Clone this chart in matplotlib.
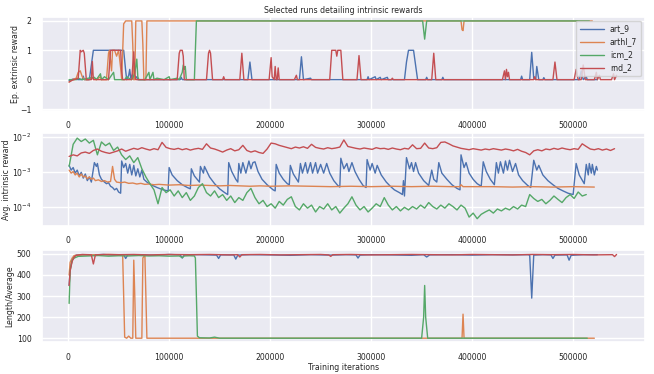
import numpy as np
import matplotlib
matplotlib.use('Agg')
import matplotlib.pyplot as plt
import seaborn as sns

# run names (legend order)
runs = ['art_9', 'arthl_7', 'icm_2', 'rnd_2']

# --- episode extrinsic reward, (iteration in thousands, reward)
art_ext = [(1, -0.03), (5, 0.02), (10, 0), (14, 0), (15, 0.12), (16, 0), (21, 0), (23, 0.5), (25, 1), (40, 1),
           (55, 1), (57, 0.3), (58, 0), (60, 0.15), (61, 0.35), (62, 0.05), (64, 0.2), (65, 0), (68, 0.1), (69, 0),
           (111, 0), (112, 0.08), (113, 0), (178, 0), (180, 0.6), (182, 0), (229, 0), (231, 0.78), (233, 0),
           (240, 0.05), (241, 0), (296, 0), (297, 0.1), (298, 0), (304, 0.1), (305, 0), (309, 0.08), (310, 0),
           (316, 0.08), (317, 0), (333, 0), (335, 0.6), (337, 1), (342, 1), (344, 0.5), (346, 0), (354, 0),
           (355, 0.08), (356, 0), (370, 0), (371, 0.08), (372, 0), (448, 0), (449, 0.12), (450, 0), (457, 0),
           (459, 0.93), (461, 0.05), (463, 0), (464, 0.45), (466, 0), (470, 0), (471, 0.07), (472, 0), (506, 0),
           (508, 0.3), (510, 0), (513, 0.1), (514, 0), (524, 0)]
arthl_ext = [(1, -0.08), (4, 0), (8, 0.05), (10, 0.25), (12, 0.3), (14, 0.1), (16, 0), (20, 0), (24, 0.05), (28, 0),
             (32, 0.1), (33, 0), (38, 0), (40, 0.9), (41, 1), (43, 0.3), (44, 1), (46, 1), (48, 0.8), (50, 1),
             (52, 0.4), (53, 0), (55, 1.9), (57, 2), (63, 2), (64, 1.2), (65, 0), (66, 0), (67, 2), (73, 2),
             (74, 1.2), (75, 0), (77, 0), (78, 2), (389, 2), (390, 1.7), (391, 1.67), (392, 2), (519, 2)]
icm_ext = [(1, 0), (8, 0), (10, 0.05), (14, 0), (20, 0.05), (26, 0.08), (28, 0), (32, 0.2), (33, 0), (36, 0.1),
           (40, 0), (45, 0.25), (46, 0), (56, 0), (58, 0.1), (60, 0.05), (63, 0), (66, 0.2), (68, 0.7), (69, 0.1),
           (70, 0), (76, 0), (80, 0.25), (81, 0), (84, 0.25), (85, 0), (88, 0.05), (95, 0), (100, 0.1), (101, 0),
           (108, 0.05), (110, 0), (113, 0.25), (114, 0.5), (115, 0.35), (116, 0.45), (117, 0), (125, 0),
           (126, 1.0), (127, 2), (351, 2), (353, 1.38), (355, 2), (516, 2)]
rnd_ext = [(1, -0.08), (4, -0.02), (6, 0), (10, 0.05), (12, 1), (13, 0.95), (15, 1), (16, 0.9), (18, 0), (23, 0),
           (24, 0.62), (25, 0), (40, 0), (42, 1), (52, 1), (53, 0.3), (54, 0), (63, 0), (65, 0.95), (66, 0.2),
           (67, 0), (108, 0), (110, 0.9), (111, 1), (113, 1), (114, 0.8), (115, 0), (137, 0), (139, 0.9),
           (140, 1), (141, 0.9), (143, 0), (153, 0), (154, 0.1), (155, 0), (170, 0), (172, 0.9), (174, 0),
           (199, 0), (201, 0.75), (202, 0.1), (204, 0), (205, 0.45), (206, 0), (207, 0), (208, 0.4), (209, 0),
           (224, 0), (226, 0.15), (227, 0), (259, 0), (261, 1), (265, 1), (266, 0.8), (267, 1), (270, 1),
           (272, 0), (286, 0), (288, 0.82), (290, 0), (320, 0), (321, 0.05), (322, 0), (360, 0), (362, 0.9),
           (364, 0), (430, 0), (432, 0.3), (433, 0), (434, 0.35), (435, 0.1), (436, 0.25), (437, 0), (461, 0),
           (462, 0.1), (463, 0), (480, 0), (482, 0.6), (484, 0), (501, 0), (503, 0.35), (505, 0), (508, 0),
           (510, 0.5), (512, 0), (521, 0), (523, 0.25), (524, 0), (526, 0.15), (527, 0), (538, 0), (540, 0.2),
           (541, 0), (543, 0.15)]

# --- average intrinsic reward (units of 1e-3)
art_int = [(1, 1.5), (3, 1.1), (5, 1.3), (7, 0.9), (9, 1.1), (11, 0.75), (13, 0.95), (15, 0.65), (17, 0.85),
           (19, 0.55), (21, 0.7), (23, 0.5), (25, 1.2), (26, 1.8), (28, 1.4), (29, 1.7), (31, 0.8), (33, 0.6),
           (36, 0.5), (38, 0.45), (40, 0.48), (42, 0.38), (44, 0.35), (46, 0.3), (48, 0.33), (50, 0.26),
           (52, 0.24), (53, 2.0), (55, 1.3), (57, 1.7), (59, 0.9), (61, 1.6), (63, 0.8), (65, 1.5), (67, 0.75),
           (69, 1.2), (71, 0.7), (73, 1.1), (75, 0.6), (78, 0.5), (82, 0.42), (88, 0.35), (94, 0.3), (99, 0.28),
           (100, 1.3), (103, 0.8), (108, 0.55), (113, 0.42), (118, 0.35), (121, 0.32), (122, 1.2), (125, 0.75),
           (130, 0.5), (131, 1.4), (134, 0.9), (135, 1.4), (140, 0.7), (145, 0.45), (150, 0.32), (155, 0.25),
           (158, 0.22), (159, 1.8), (162, 1.0), (166, 0.6), (168, 0.5), (169, 1.7), (171, 0.9), (173, 1.8),
           (176, 0.9), (179, 2.0), (181, 1.2), (183, 1.8), (185, 1.9), (188, 1.0), (192, 0.6), (197, 0.42),
           (203, 0.3), (205, 0.28), (206, 1.6), (209, 0.9), (213, 0.6), (217, 0.45), (219, 0.42), (220, 1.5),
           (223, 0.85), (227, 0.55), (228, 0.5), (230, 1.7), (232, 0.9), (235, 1.8), (237, 0.9), (240, 1.8),
           (242, 0.9), (245, 1.8), (247, 0.9), (250, 1.6), (253, 0.9), (256, 1.7), (259, 0.9), (263, 0.55),
           (267, 0.4), (269, 0.36), (270, 2.4), (273, 1.2), (276, 1.7), (278, 1.0), (281, 1.8), (284, 1.0),
           (288, 0.6), (292, 0.4), (295, 0.35), (296, 2.2), (299, 1.1), (301, 1.7), (304, 0.9), (306, 1.5),
           (310, 0.8), (315, 0.5), (319, 0.38), (323, 0.3), (328, 0.25), (331, 0.22), (332, 0.55), (333, 0.2),
           (335, 2.5), (338, 1.2), (340, 1.8), (342, 1.0), (344, 1.8), (347, 0.9), (352, 0.55), (357, 0.4),
           (360, 1.1), (362, 0.6), (365, 0.5), (367, 1.8), (370, 0.9), (375, 0.6), (380, 0.42), (385, 0.33),
           (388, 0.3), (389, 3.0), (392, 1.3), (394, 1.8), (397, 0.9), (401, 0.6), (405, 0.45), (409, 0.38),
           (411, 1.9), (414, 1.0), (418, 0.6), (422, 0.42), (424, 1.8), (426, 0.9), (428, 1.9), (431, 0.9),
           (433, 2.0), (435, 1.1), (437, 2.1), (440, 1.0), (443, 1.7), (446, 0.8), (450, 0.55), (455, 0.4),
           (458, 0.35), (461, 2.1), (464, 1.1), (466, 1.5), (470, 0.8), (475, 0.55), (480, 0.42), (485, 0.33),
           (490, 0.28), (495, 0.24), (500, 0.22), (503, 1.7), (506, 0.8), (510, 0.5), (511, 0.45), (513, 1.6),
           (515, 0.8), (516, 1.7), (518, 0.9), (519, 1.6), (521, 0.8), (523, 1.4), (524, 1.1)]
arthl_int = [(1, 1.1), (3, 0.9), (5, 1.0), (7, 0.8), (9, 0.9), (11, 0.7), (13, 0.85), (15, 0.7), (17, 0.75),
             (19, 0.62), (21, 0.7), (23, 0.6), (25, 0.65), (27, 0.55), (30, 0.58), (33, 0.52), (36, 0.55),
             (39, 0.5), (42, 0.52), (44, 1.4), (46, 0.6), (48, 0.5), (52, 0.48), (56, 0.5), (60, 0.46),
             (64, 0.47), (68, 0.44), (72, 0.46), (76, 0.43), (80, 0.44), (85, 0.42), (90, 0.43), (100, 0.41),
             (110, 0.42), (120, 0.4), (130, 0.41), (140, 0.4), (150, 0.39), (160, 0.4), (170, 0.39), (180, 0.38),
             (190, 0.39), (200, 0.38), (220, 0.39), (240, 0.38), (260, 0.37), (280, 0.38), (300, 0.37),
             (320, 0.38), (340, 0.37), (360, 0.38), (380, 0.37), (388, 0.37), (389, 0.42), (391, 0.37),
             (420, 0.37), (440, 0.36), (460, 0.37), (480, 0.36), (500, 0.37), (521, 0.36)]
# logged every 4000 iterations starting at 1000
icm_int = [1.4, 6.0, 9.0, 7.2, 8.5, 6.5, 7.8, 3.0, 7.0, 5.5, 6.5, 4.0, 5.0, 3.0, 2.2, 2.8, 1.8, 2.5, 1.2, 0.7,
           0.45, 0.3, 0.12, 0.35, 0.25, 0.3, 0.2, 0.28, 0.18, 0.25, 0.15, 0.2, 0.35, 0.45, 0.25, 0.2, 0.28, 0.18,
           0.22, 0.15, 0.2, 0.13, 0.18, 0.15, 0.25, 0.33, 0.18, 0.12, 0.15, 0.1, 0.12, 0.09, 0.14, 0.11, 0.16,
           0.19, 0.1, 0.08, 0.12, 0.09, 0.11, 0.07, 0.1, 0.085, 0.12, 0.08, 0.1, 0.065, 0.09, 0.12, 0.19, 0.11,
           0.08, 0.1, 0.07, 0.09, 0.12, 0.1, 0.18, 0.11, 0.08, 0.1, 0.075, 0.095, 0.08, 0.1, 0.085, 0.11, 0.09,
           0.13, 0.1, 0.085, 0.11, 0.09, 0.12, 0.1, 0.08, 0.11, 0.09, 0.05, 0.065, 0.045, 0.06, 0.07, 0.08,
           0.065, 0.085, 0.075, 0.09, 0.08, 0.1, 0.085, 0.11, 0.1, 0.22, 0.17, 0.14, 0.16, 0.12, 0.15, 0.2,
           0.16, 0.13, 0.18, 0.22, 0.17, 0.26, 0.2, 0.22]
rnd_int = [2.7, 3.0, 2.8, 3.4, 3.6, 3.3, 4.0, 4.4, 3.8, 3.5, 3.3, 3.6, 3.9, 4.4, 3.8, 4.2, 4.6, 4.3, 4.8, 4.4,
           4.1, 4.5, 4.2, 6.8, 4.9, 4.5, 4.3, 4.6, 4.2, 4.5, 4.1, 4.4, 4.6, 4.3, 6.2, 4.7, 4.4, 4.0, 3.6, 4.1,
           4.5, 3.9, 4.2, 5.6, 4.0, 3.6, 3.9, 3.5, 3.3, 4.4, 6.5, 6.2, 5.6, 5.2, 4.8, 4.5, 5.0, 4.7, 5.1, 4.6,
           6.0, 4.9, 4.6, 4.4, 4.8, 4.5, 4.7, 5.0, 8.0, 5.2, 4.9, 4.6, 4.4, 4.7, 4.5, 4.3, 4.8, 4.5, 4.6, 4.3,
           4.7, 4.4, 4.2, 4.6, 4.4, 5.8, 4.5, 4.6, 6.5, 4.7, 4.5, 4.8, 6.8, 7.0, 6.2, 5.4, 5.0, 4.6, 4.4, 4.2,
           4.5, 4.3, 4.1, 4.4, 4.2, 4.5, 4.3, 4.1, 4.4, 4.2, 3.9, 4.3, 3.8, 3.5, 3.0, 3.9, 4.2, 3.9, 4.4, 4.2,
           4.6, 4.3, 4.7, 4.4, 4.2, 4.5, 4.3, 6.2, 5.2, 4.4, 4.2, 4.5, 4.1, 4.4, 4.0, 4.5]

# --- episode length average
art_len = [(1, 350), (2, 430), (4, 470), (6, 488), (8, 494), (15, 496), (25, 495), (35, 497), (45, 494), (55, 496),
           (57, 478), (59, 495), (70, 496), (85, 493), (100, 497), (111, 495), (113, 480), (115, 495), (130, 496),
           (147, 494), (149, 478), (151, 495), (164, 495), (166, 475), (168, 494), (180, 496), (200, 495),
           (220, 493), (240, 496), (260, 494), (275, 496), (285, 495), (287, 480), (289, 494), (300, 496),
           (320, 495), (340, 493), (352, 496), (355, 485), (358, 495), (380, 496), (400, 494), (420, 496),
           (440, 495), (455, 496), (457, 494), (459, 290), (461, 494), (470, 496), (478, 495), (480, 478),
           (482, 494), (494, 495), (496, 470), (498, 493), (510, 496), (524, 496)]
arthl_len = [(1, 400), (2, 460), (4, 480), (6, 492), (10, 494), (20, 496), (30, 495), (40, 497), (50, 496),
             (54, 495), (55, 300), (56, 105), (58, 100), (60, 110), (62, 100), (64, 100), (65, 470), (66, 300),
             (67, 100), (73, 100), (74, 480), (76, 495), (77, 300), (78, 100), (90, 100), (120, 100), (200, 100),
             (300, 100), (390, 100), (391, 214), (392, 100), (450, 100), (521, 100)]
icm_len = [(1, 265), (2, 420), (4, 470), (6, 480), (10, 488), (20, 490), (30, 492), (40, 489), (50, 491),
           (60, 490), (70, 492), (80, 490), (90, 491), (100, 489), (110, 490), (113, 482), (115, 490), (120, 491),
           (125, 490), (126, 480), (127, 300), (128, 110), (130, 102), (140, 101), (145, 105), (150, 100),
           (200, 100), (250, 100), (300, 100), (350, 100), (352, 200), (353, 350), (354, 200), (356, 100),
           (400, 100), (450, 100), (500, 100), (514, 100)]
rnd_len = [(1, 350), (2, 420), (4, 465), (6, 485), (8, 493), (14, 497), (20, 496), (23, 495), (25, 452), (27, 495),
           (35, 497), (50, 496), (65, 497), (80, 495), (100, 497), (120, 496), (140, 497), (160, 495), (168, 496),
           (170, 485), (172, 496), (190, 497), (210, 495), (230, 496), (250, 497), (258, 495), (260, 488),
           (262, 496), (280, 497), (300, 495), (320, 496), (340, 497), (360, 496), (380, 495), (400, 497),
           (420, 496), (440, 495), (460, 497), (480, 496), (500, 497), (520, 495), (539, 496), (541, 487),
           (543, 497)]

colors = sns.color_palette('deep', 4)

sns.set_theme(style='darkgrid')
plt.rcParams['font.family'] = ['DejaVu Sans']
fs = 5.6

fig = plt.figure(figsize=(6.54, 3.74), dpi=100)
ax1 = fig.add_axes([0.064, 0.703, 0.922, 0.252])
ax2 = fig.add_axes([0.064, 0.396, 0.922, 0.248])
ax3 = fig.add_axes([0.064, 0.085, 0.922, 0.247])


def xy(pairs):
    a = np.array(pairs, dtype=float)
    return a[:, 0] * 1000, a[:, 1]


lw = 1.0
for name, data, c in zip(runs, [art_ext, arthl_ext, icm_ext, rnd_ext], colors):
    x, y = xy(data)
    ax1.plot(x, y, color=c, lw=lw, label=name)

x, y = xy(art_int)
ax2.plot(x, y * 1e-3, color=colors[0], lw=lw)
x, y = xy(arthl_int)
ax2.plot(x, y * 1e-3, color=colors[1], lw=lw)
x = 1000 + 4000 * np.arange(len(icm_int))
ax2.plot(x, np.array(icm_int) * 1e-3, color=colors[2], lw=lw)
x = 1000 + 4000 * np.arange(len(rnd_int))
ax2.plot(x, np.array(rnd_int) * 1e-3, color=colors[3], lw=lw)
ax2.set_yscale('log')

for data, c in zip([art_len, arthl_len, icm_len, rnd_len], colors):
    x, y = xy(data)
    ax3.plot(x, y, color=c, lw=lw)

ax1.set_ylim(-1.07, 2.14)
ax1.set_yticks([-1, 0, 1, 2])
ax2.set_ylim(2.8e-5, 1.25e-2)
ax3.set_ylim(81, 519)
ax3.set_yticks([100, 200, 300, 400, 500])

for ax in (ax1, ax2, ax3):
    ax.set_xlim(-26000, 571000)
    ax.set_xticks([0, 100000, 200000, 300000, 400000, 500000])
    ax.set_xticklabels(['0', '100000', '200000', '300000', '400000', '500000'])
    ax.tick_params(labelsize=fs, pad=1.5)

ax1.set_title('Selected runs detailing intrinsic rewards', fontsize=fs, pad=3)
ax1.set_ylabel('Ep. extrinsic reward', fontsize=fs)
ax2.set_ylabel('Avg. intrinsic reward', fontsize=fs)
ax3.set_ylabel('Length/Average', fontsize=fs)
ax1.yaxis.set_label_coords(-0.037, 0.5)
ax2.yaxis.set_label_coords(-0.052, 0.5)
ax3.yaxis.set_label_coords(-0.046, 0.5)
ax3.set_xlabel('Training iterations', fontsize=fs, labelpad=1)
ax1.legend(loc='upper right', fontsize=fs, handlelength=3.0, borderpad=0.5, labelspacing=0.5)

fig.savefig('out.png', dpi=100)
